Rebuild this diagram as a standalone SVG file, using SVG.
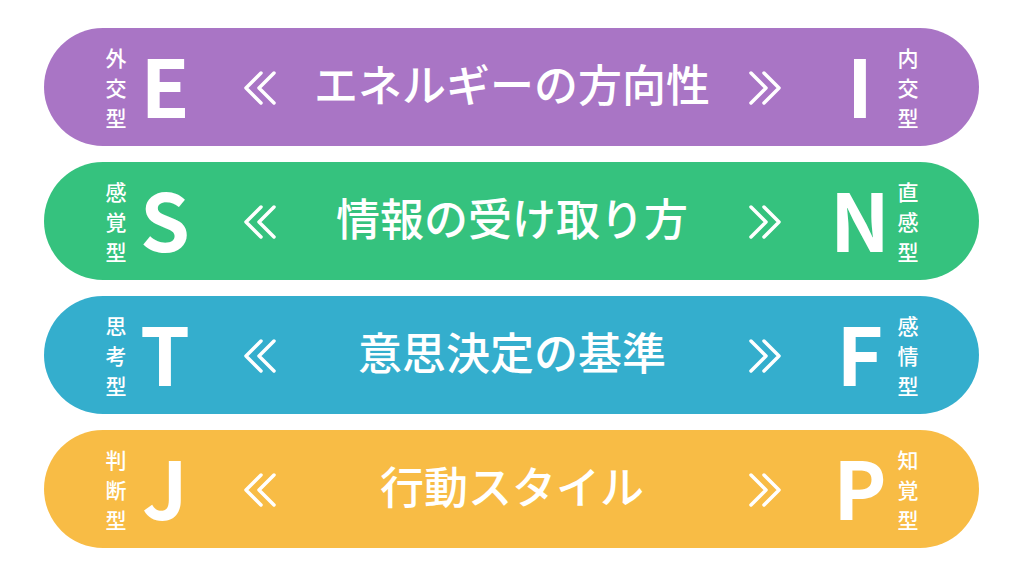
<svg xmlns="http://www.w3.org/2000/svg" width="1024" height="576" viewBox="0 0 1024 576">
<style>
text{fill:#fff;font-family:"Noto Sans CJK JP","Noto Sans",sans-serif;font-weight:700}
.sm{font-size:21px;text-anchor:middle;font-weight:500}
.big{font-size:80px;text-anchor:middle;font-weight:600}
.ttl{font-size:44px;text-anchor:middle;font-weight:500}
.chev{fill:none;stroke:#fff;stroke-width:3.5;stroke-linecap:round;stroke-linejoin:round}
</style>
<defs>
<path id="chl" class="chev" d="M17,-15 L2,0 L17,15 M30,-15 L15,0 L30,15"/>
<path id="chr" class="chev" d="M2,-15 L17,0 L2,15 M15,-15 L30,0 L15,15"/>
</defs>
<rect width="1024" height="576" fill="#fff"/>
<g id="row-ei">
<rect x="44" y="28" width="935" height="118" rx="59" fill="#a975c5"/>
<text class="sm" x="116" y="66">外</text><text class="sm" x="116" y="96">交</text><text class="sm" x="116" y="126">型</text>
<text class="big" x="165" y="118">E</text>
<use href="#chl" x="244" y="88"/>
<text class="ttl" x="512" y="102">エネルギーの方向性</text>
<use href="#chr" x="749" y="88"/>
<text class="big" x="860" y="118">I</text>
<text class="sm" x="908" y="66">内</text><text class="sm" x="908" y="96">交</text><text class="sm" x="908" y="126">型</text>
</g>
<g id="row-sn">
<rect x="44" y="162" width="935" height="118" rx="59" fill="#35c27e"/>
<text class="sm" x="116" y="200">感</text><text class="sm" x="116" y="230">覚</text><text class="sm" x="116" y="260">型</text>
<text class="big" x="165" y="252">S</text>
<use href="#chl" x="244" y="222"/>
<text class="ttl" x="512" y="236">情報の受け取り方</text>
<use href="#chr" x="749" y="222"/>
<text class="big" x="860" y="252">N</text>
<text class="sm" x="908" y="200">直</text><text class="sm" x="908" y="230">感</text><text class="sm" x="908" y="260">型</text>
</g>
<g id="row-tf">
<rect x="44" y="296" width="935" height="118" rx="59" fill="#34aecd"/>
<text class="sm" x="116" y="334">思</text><text class="sm" x="116" y="364">考</text><text class="sm" x="116" y="394">型</text>
<text class="big" x="165" y="386">T</text>
<use href="#chl" x="244" y="356"/>
<text class="ttl" x="512" y="370">意思決定の基準</text>
<use href="#chr" x="749" y="356"/>
<text class="big" x="860" y="386">F</text>
<text class="sm" x="908" y="334">感</text><text class="sm" x="908" y="364">情</text><text class="sm" x="908" y="394">型</text>
</g>
<g id="row-jp">
<rect x="44" y="430" width="935" height="118" rx="59" fill="#f8bc45"/>
<text class="sm" x="116" y="468">判</text><text class="sm" x="116" y="498">断</text><text class="sm" x="116" y="528">型</text>
<text class="big" x="165" y="520">J</text>
<use href="#chl" x="244" y="490"/>
<text class="ttl" x="512" y="504">行動スタイル</text>
<use href="#chr" x="749" y="490"/>
<text class="big" x="860" y="520">P</text>
<text class="sm" x="908" y="468">知</text><text class="sm" x="908" y="498">覚</text><text class="sm" x="908" y="528">型</text>
</g>
<g id="connectors"/>
</svg>
